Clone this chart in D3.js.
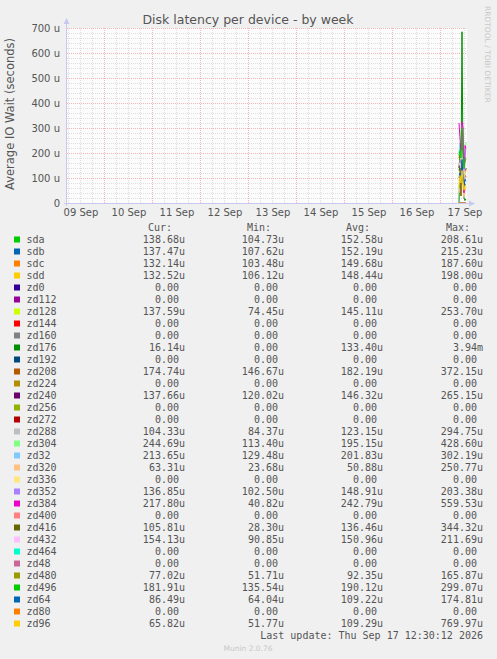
<!DOCTYPE html>
<html>
<head>
<meta charset="utf-8">
<script src="https://cdn.jsdelivr.net/npm/d3@7"></script>
<style>
  body { margin: 0; background: #f0f0f0; }
  svg { display: block; }
  .mono { font-family: "DejaVu Sans Mono", monospace; font-size: 10px; fill: #555; }
</style>
</head>
<body>
<svg id="chart" width="497" height="659"></svg>
<script>
// device names and munin colours
var devices = ["sda","sdb","sdc","sdd","zd0","zd112","zd128","zd144","zd160","zd176","zd192",
  "zd208","zd224","zd240","zd256","zd272","zd288","zd304","zd32","zd320","zd336","zd352",
  "zd384","zd400","zd416","zd432","zd464","zd48","zd480","zd496","zd64","zd80","zd96"];
var colors = ["#00CC00","#0066B3","#FF8000","#FFCC00","#330099","#990099","#CCFF00","#FF0000",
  "#808080","#008F00","#00487D","#B35A00","#B38F00","#6B006B","#8FB300","#B30000","#BEBEBE",
  "#80FF80","#80C9FF","#FFC080","#FFE680","#AA80FF","#EE00CC","#FF8080","#666600","#FFBFFF",
  "#00FFCC","#CC6699","#999900","#00CC00","#0066B3","#FF8000","#FFCC00"];

// legend columns
var curVals = ["138.68u","137.47u","132.14u","132.52u","0.00","0.00","137.59u","0.00","0.00","16.14u","0.00",
  "174.74u","0.00","137.66u","0.00","0.00","104.33u","244.69u","213.65u","63.31u","0.00","136.85u",
  "217.80u","0.00","105.81u","154.13u","0.00","0.00","77.02u","181.91u","86.49u","0.00","65.82u"];
var minVals = ["104.73u","107.62u","103.48u","106.12u","0.00","0.00","74.45u","0.00","0.00","0.00","0.00",
  "146.67u","0.00","120.02u","0.00","0.00","84.37u","113.40u","129.48u","23.68u","0.00","102.50u",
  "40.82u","0.00","28.30u","90.85u","0.00","0.00","51.71u","135.54u","64.04u","0.00","51.77u"];
var avgVals = ["152.58u","152.19u","149.68u","148.44u","0.00","0.00","145.11u","0.00","0.00","133.40u","0.00",
  "182.19u","0.00","146.32u","0.00","0.00","123.15u","195.15u","201.83u","50.88u","0.00","148.91u",
  "242.79u","0.00","136.46u","150.96u","0.00","0.00","92.35u","190.12u","109.22u","0.00","109.29u"];
var maxVals = ["208.61u","215.23u","187.60u","198.00u","0.00","0.00","253.70u","0.00","0.00","3.94m","0.00",
  "372.15u","0.00","265.15u","0.00","0.00","294.75u","428.60u","302.19u","250.77u","0.00","203.38u",
  "559.53u","0.00","344.32u","211.69u","0.00","0.00","165.87u","299.07u","174.81u","0.00","769.97u"];

// sample times (30 min steps) and plotted values in microseconds
var sampleTimes = ["2026-09-17T09:30","2026-09-17T10:00","2026-09-17T10:30","2026-09-17T11:00",
  "2026-09-17T11:30","2026-09-17T12:00","2026-09-17T12:30","2026-09-17T13:00"];
var series = {
  sda:   [150, 175, 160, 208, 140, 120, 130, 138.68],
  sdb:   [145, 170, 150, 215, 130, 110, 125, 137.47],
  sdc:   [140, 165, 150, 187, 125, 105, 120, 132.14],
  sdd:   [140, 160, 145, 198, 125, 106, 118, 132.52],
  zd0:   [0, 0, 0, 0, 0, 0, 0, 0],
  zd112: [0, 0, 0, 0, 0, 0, 0, 0],
  zd128: [150, 200, 140, 253, 120, 75, 110, 137.59],
  zd144: [0, 0, 0, 0, 0, 0, 0, 0],
  zd160: [0, 0, 0, 0, 0, 0, 0, 0],
  zd176: [0, 190, 110, 685, 150, 20, 10, 16.14],
  zd192: [0, 0, 0, 0, 0, 0, 0, 0],
  zd208: [180, 200, 160, 300, 170, 147, 165, 174.74],
  zd224: [0, 0, 0, 0, 0, 0, 0, 0],
  zd240: [140, 160, 130, 265, 135, 120, 130, 137.66],
  zd256: [0, 0, 0, 0, 0, 0, 0, 0],
  zd272: [0, 0, 0, 0, 0, 0, 0, 0],
  zd288: [110, 130, 100, 294, 120, 84, 95, 104.33],
  zd304: [190, 230, 170, 310, 200, 113, 180, 244.69],
  zd32:  [200, 240, 180, 300, 210, 130, 190, 213.65],
  zd320: [40, 60, 30, 250, 50, 24, 45, 63.31],
  zd336: [0, 0, 0, 0, 0, 0, 0, 0],
  zd352: [140, 170, 130, 203, 150, 102, 140, 136.85],
  zd384: [320, 260, 200, 325, 300, 41, 230, 217.80],
  zd400: [0, 0, 0, 0, 0, 0, 0, 0],
  zd416: [130, 150, 28, 290, 120, 90, 110, 105.81],
  zd432: [150, 160, 140, 211, 150, 91, 148, 154.13],
  zd464: [0, 0, 0, 0, 0, 0, 0, 0],
  zd48:  [0, 0, 0, 0, 0, 0, 0, 0],
  zd480: [90, 100, 80, 165, 85, 52, 70, 77.02],
  zd496: [190, 210, 180, 299, 185, 136, 175, 181.91],
  zd64:  [100, 120, 90, 174, 105, 64, 95, 86.49],
  zd80:  [0, 0, 0, 0, 0, 0, 0, 0],
  zd96:  [60, 110, 80, 130, 90, 52, 70, 65.82]
};
var yTicks = [0, 100, 200, 300, 400, 500, 600, 700];

var svg = d3.select("#chart");
var pLeft = 67, pRight = 467, pTop = 28, pBottom = 203;
var parse = d3.timeParse("%Y-%m-%dT%H:%M");
var times = sampleTimes.map(parse);

var x = d3.scaleTime()
  .domain([parse("2026-09-09T05:30"), parse("2026-09-17T13:30")])
  .range([pLeft, pRight]);
var y = d3.scaleLinear().domain([0, 700]).range([pBottom, pTop]);

//plot canvas
svg.append("rect").attr("x", pLeft).attr("y", pTop)
  .attr("width", pRight - pLeft).attr("height", pBottom - pTop).attr("fill", "#fcfcfc");

var grid = svg.append("g");
//minor grid
var minorY = d3.range(0, 701, 20);
grid.selectAll(".hminor").data(minorY).enter().append("line")
  .attr("x1", pLeft).attr("x2", pRight)
  .attr("y1", function(d){ return Math.round(y(d)) + 0.5; }).attr("y2", function(d){ return Math.round(y(d)) + 0.5; })
  .attr("stroke", "#dedede").attr("stroke-dasharray", "1,1");
var minorX = d3.timeHour.every(6).range(x.domain()[0], x.domain()[1]);
grid.selectAll(".vminor").data(minorX).enter().append("line")
  .attr("x1", function(d){ return Math.round(x(d)) + 0.5; }).attr("x2", function(d){ return Math.round(x(d)) + 0.5; })
  .attr("y1", pTop).attr("y2", pBottom)
  .attr("stroke", "#dedede").attr("stroke-dasharray", "1,1");
//major grid
grid.selectAll(".hmajor").data(yTicks).enter().append("line")
  .attr("x1", pLeft).attr("x2", pRight)
  .attr("y1", function(d){ return Math.round(y(d)) + 0.5; }).attr("y2", function(d){ return Math.round(y(d)) + 0.5; })
  .attr("stroke", "#f3b6b6").attr("stroke-dasharray", "1,1");
var days = d3.timeDay.range(x.domain()[0], x.domain()[1]);
grid.selectAll(".vmajor").data(days).enter().append("line")
  .attr("x1", function(d){ return Math.round(x(d)) + 0.5; }).attr("x2", function(d){ return Math.round(x(d)) + 0.5; })
  .attr("y1", pTop).attr("y2", pBottom)
  .attr("stroke", "#f3b6b6").attr("stroke-dasharray", "1,1");

//series lines
var line = d3.line()
  .x(function(d, i){ return x(times[i]); })
  .y(function(d){ return y(Math.min(d, 700)); });
svg.append("g").selectAll("path")
  .data(devices)
  .enter().append("path")
  .attr("d", function(d){ return line(series[d]); })
  .attr("fill", "none")
  .attr("stroke", function(d, i){ return colors[i]; })
  .attr("stroke-width", 1);

//axes (rrdtool style, with arrows)
var axisColor = "#c8c8f0";
svg.append("line").attr("x1", pLeft - 0.5).attr("x2", pLeft - 0.5).attr("y1", pBottom + 3).attr("y2", pTop - 6)
  .attr("stroke", axisColor);
svg.append("path").attr("d", "M" + (pLeft - 3.5) + "," + (pTop - 4) + "L" + (pLeft - 0.5) + "," + (pTop - 10) + "L" + (pLeft + 2.5) + "," + (pTop - 4) + "Z")
  .attr("fill", axisColor);
svg.append("line").attr("x1", pLeft - 3).attr("x2", pRight + 3).attr("y1", pBottom + 0.5).attr("y2", pBottom + 0.5)
  .attr("stroke", axisColor);
svg.append("path").attr("d", "M" + (pRight + 2) + "," + (pBottom - 2.5) + "L" + (pRight + 8) + "," + (pBottom + 0.5) + "L" + (pRight + 2) + "," + (pBottom + 3.5) + "Z")
  .attr("fill", axisColor);

//y tick labels
svg.append("g").selectAll("text").data(yTicks).enter().append("text")
  .attr("x", 60).attr("y", function(d){ return y(d) + 3.5; })
  .attr("text-anchor", "end")
  .style("font-family", "DejaVu Sans").style("font-size", "10px").style("fill", "#555")
  .text(function(d){ return d === 0 ? "0" : d + " u"; });

//x tick labels at noon
var dayFmt = d3.timeFormat("%d %b");
var labelDays = days.map(function(d){ return d3.timeHour.offset(d, -12); })
  .concat([d3.timeHour.offset(days[days.length - 1], 12)]);
svg.append("g").selectAll("text").data(labelDays)
  .enter().append("text")
  .attr("x", function(d){ return x(d) + 1; }).attr("y", 216)
  .attr("text-anchor", "middle")
  .style("font-family", "DejaVu Sans").style("font-size", "10px").style("fill", "#555")
  .text(function(d){ return dayFmt(d); });

//title and axis label
svg.append("text").attr("x", 248).attr("y", 24).attr("text-anchor", "middle")
  .style("font-family", "DejaVu Sans").style("font-size", "12.5px").style("fill", "#555")
  .text("Disk latency per device - by week");
svg.append("text").attr("transform", "translate(14,114) rotate(-90)").attr("text-anchor", "middle")
  .style("font-family", "DejaVu Sans").style("font-size", "11.5px").style("fill", "#555")
  .text("Average IO Wait (seconds)");
svg.append("text").attr("transform", "translate(485,6) rotate(90)")
  .style("font-family", "DejaVu Sans").style("font-size", "7.5px").style("fill", "#c8c8c8")
  .text("RRDTOOL / TOBI OETIKER");

//legend
var charW = 6.0;
var colRight = [185, 284, 383, 483];
var headers = ["Cur:", "Min:", "Avg:", "Max:"];
svg.append("g").selectAll("text").data(headers).enter().append("text")
  .attr("class", "mono")
  .attr("x", function(d, i){ return colRight[i] - 13; })
  .attr("y", 230.5).attr("text-anchor", "end")
  .text(function(d){ return d; });

var rows = svg.append("g").selectAll("g").data(devices).enter().append("g")
  .attr("transform", function(d, i){ return "translate(0," + (239.5 + i * 12) + ")"; });
rows.append("rect").attr("x", 14).attr("y", -3).attr("width", 6).attr("height", 6)
  .attr("fill", function(d, i){ return colors[i]; });
rows.append("text").attr("class", "mono").attr("x", 26.5).attr("y", 3.5)
  .text(function(d){ return d; });
[curVals, minVals, avgVals, maxVals].forEach(function(col, c){
  rows.append("text").attr("class", "mono")
    .attr("x", function(d, i){ return /[um]$/.test(col[i]) ? colRight[c] : colRight[c] - charW; })
    .attr("y", 3.5).attr("text-anchor", "end")
    .text(function(d, i){ return col[i]; });
});

svg.append("text").attr("class", "mono").attr("x", 483).attr("y", 639).attr("text-anchor", "end")
  .text("Last update: Thu Sep 17 12:30:12 2026");
svg.append("text").attr("x", 248).attr("y", 651).attr("text-anchor", "middle")
  .style("font-family", "DejaVu Sans").style("font-size", "7.5px").style("fill", "#c8c8c8")
  .text("Munin 2.0.76");
</script>
</body>
</html>
